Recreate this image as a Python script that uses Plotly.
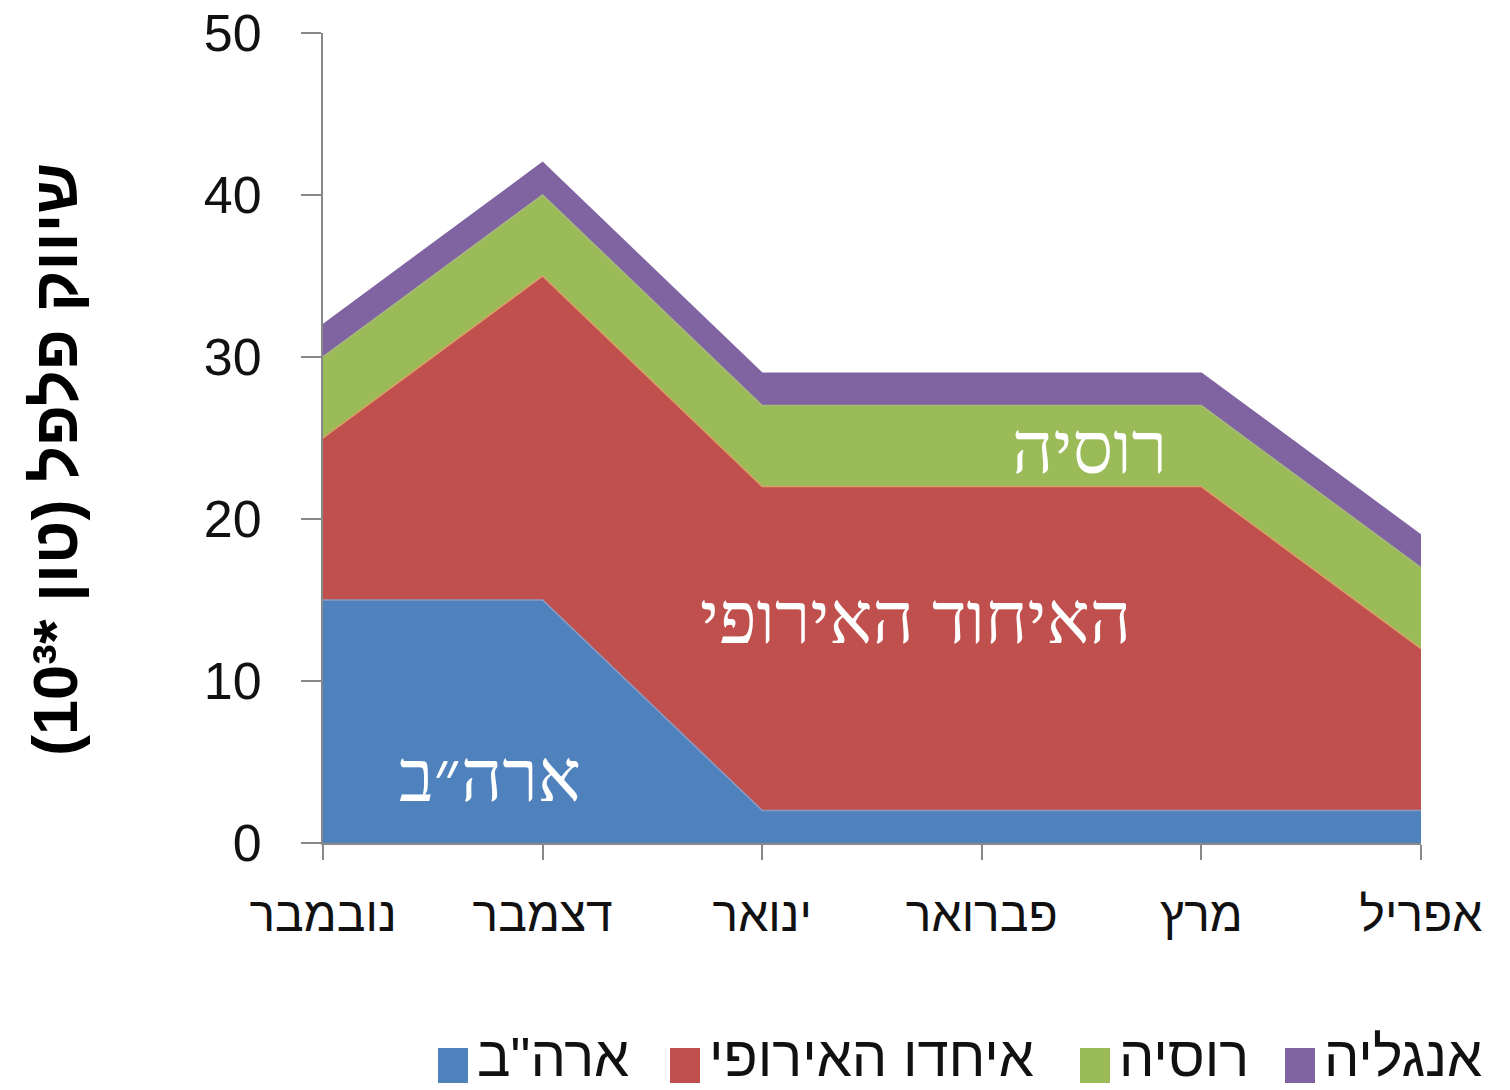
import plotly.graph_objects as go

# months (x categories), left to right as in the source chart
months = ["נובמבר", "דצמבר", "ינואר", "פברואר", "מרץ", "אפריל"]

# pepper marketing, thousands of tons, stacked
usa = [15, 15, 2, 2, 2, 2]
eu = [10, 20, 20, 20, 20, 10]
russia = [5, 5, 5, 5, 5, 5]
england = [2, 2, 2, 2, 2, 2]

series = [usa, eu, russia, england]
legend_names = ['ארה"ב', "איחדו האירופי", "רוסיה", "אנגליה"]
fill_colors = ["#4F81BD", "#C0504D", "#9BBB59", "#8064A2"]
edge_colors = ["#8A9CC4", "#D9A066", "#A7B87C", "#8064A2"]

# labels written inside the areas
area_labels = ["ארה״ב", "האיחוד האירופי", "רוסיה"]
area_label_x = [0.76, 2.7, 3.49]
area_label_y = [4.1, 13.8, 24.3]

y_title = "\u200fשיווק פלפל (טון *10³)\u200f"

# page body has an 8px margin, so the figure is drawn 8px smaller and
# reference pixel positions are shifted by that much
PAGE = 8
W, H = 1510 - PAGE, 1090 - PAGE
L, T = 323 - PAGE, 33 - PAGE
R = W - (1421 - PAGE)
B = H - (843 - PAGE)
SANS = "Liberation Sans, DejaVu Sans, sans-serif"
SERIF = "Liberation Serif, DejaVu Serif, serif"

fig = go.Figure()
for vals, name, fc, lc in zip(series, legend_names, fill_colors, edge_colors):
    fig.add_trace(go.Scatter(
        x=months, y=vals, name=name, mode="lines",
        stackgroup="one", fillcolor=fc,
        line=dict(color=lc, width=1.5),
        showlegend=False,
    ))

for txt, x, y in zip(area_labels, area_label_x, area_label_y):
    fig.add_annotation(x=x, y=y, xref="x", yref="y", text=txt, showarrow=False,
                       font=dict(family=SERIF, size=72, color="white"))


# reference screen pixels -> paper coordinates
def px_x(p):
    return (p - PAGE - L) / (W - L - R)


def px_y(p):
    return (H - B - (p - PAGE)) / (H - T - B)


# y title as a rotated annotation so it sits where the original has it
fig.add_annotation(xref="paper", yref="paper", x=px_x(55), y=px_y(460),
                   text=y_title, textangle=-90, showarrow=False,
                   xanchor="center", yanchor="middle",
                   font=dict(family=SANS, size=63, color="black", weight="bold"))

# hand-built legend so the swatches can be big squares like the original
swatch_left = [438, 670, 1080, 1285]
for name, fc, sx in zip(legend_names, fill_colors, swatch_left):
    fig.add_shape(type="rect", xref="paper", yref="paper",
                  x0=px_x(sx), x1=px_x(sx + 30), y0=px_y(1083), y1=px_y(1048),
                  fillcolor=fc, line=dict(width=0))
    fig.add_annotation(xref="paper", yref="paper", x=px_x(sx + 38), y=px_y(1089),
                       xanchor="left", yanchor="bottom", text=name, showarrow=False,
                       borderpad=0,
                       font=dict(family=SANS, size=56, color="#111111"))

fig.update_xaxes(
    type="category", range=[0, 5], automargin=False,
    showline=True, linecolor="#888888", linewidth=2,
    ticks="outside", ticklen=15, tickwidth=2, tickcolor="#888888",
    ticklabelstandoff=13,
    tickfont=dict(family=SANS, size=48, color="#111111"),
    showgrid=False, zeroline=False,
)
fig.update_yaxes(
    range=[0, 50], dtick=10, automargin=False,
    showline=True, linecolor="#888888", linewidth=2,
    ticks="outside", ticklen=20, tickwidth=2, tickcolor="#888888",
    ticklabelstandoff=29, ticklabeloverflow="allow",
    tickfont=dict(family=SANS, size=52, color="#111111"),
    showgrid=False, zeroline=False,
)

fig.update_layout(
    width=W, height=H,
    margin=dict(l=L, r=R, t=T, b=B),
    plot_bgcolor="white", paper_bgcolor="white",
    showlegend=False,
)

fig.write_html("out.html")
